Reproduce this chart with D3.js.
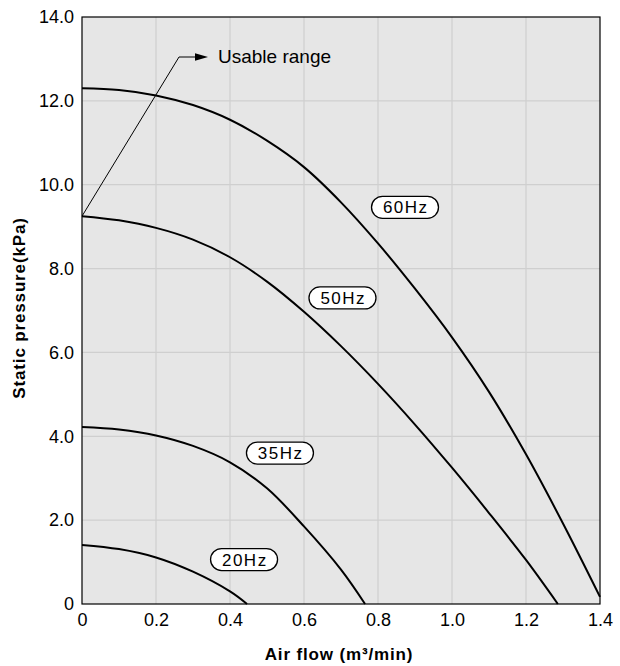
<!DOCTYPE html>
<html><head><meta charset="utf-8">
<script src="https://cdn.jsdelivr.net/npm/d3@7"></script>
<style>body{margin:0;background:#fff}svg{display:block}</style>
</head><body>
<svg id="c" width="620" height="666"></svg>
<script>
const xTicks = [0,0.2,0.4,0.6,0.8,1.0,1.2,1.4];
const xTickLabels = ["0","0.2","0.4","0.6","0.8","1.0","1.2","1.4"];
const yTicks = [0,2,4,6,8,10,12,14];
const yTickLabels = ["0","2.0","4.0","6.0","8.0","10.0","12.0","14.0"];
const seriesNames = ["60Hz","50Hz","35Hz","20Hz"];
const flow60 = [0,0.1,0.2,0.3,0.4,0.5,0.6,0.7,0.8,0.9,1.0,1.1,1.2,1.3,1.4];
const pres60 = [12.3,12.26,12.13,11.9,11.55,11.05,10.42,9.58,8.6,7.52,6.36,5.06,3.57,1.92,0.17];
const flow50 = [0,0.1,0.2,0.3,0.4,0.5,0.6,0.7,0.8,0.9,1.0,1.1,1.2,1.286];
const pres50 = [9.25,9.15,8.97,8.69,8.27,7.69,6.97,6.15,5.25,4.28,3.25,2.17,1.05,0];
const flow35 = [0,0.1,0.2,0.3,0.4,0.5,0.6,0.7,0.765];
const pres35 = [4.22,4.16,4.02,3.77,3.38,2.76,1.85,0.82,0];
const flow20 = [0,0.1,0.2,0.3,0.4,0.446];
const pres20 = [1.41,1.31,1.11,0.77,0.3,0];
const labelFlow = [0.873,0.704,0.535,0.438];
const labelPres = [9.46,7.30,3.60,1.06];

const svg = d3.select("#c");
const L=82,R=600,T=17,B=604;
const x = d3.scaleLinear().domain([0,1.4]).range([L,R]);
const y = d3.scaleLinear().domain([0,14]).range([B,T]);
const font = "'Liberation Sans',Arial,Helvetica,sans-serif";

svg.append("rect").attr("x",L).attr("y",T).attr("width",R-L).attr("height",B-T).attr("fill","#e6e6e6");
svg.append("g").selectAll("line").data(xTicks.slice(1,-1)).join("line")
  .attr("x1",d=>x(d)).attr("x2",d=>x(d)).attr("y1",T).attr("y2",B)
  .attr("stroke","#cfcfcf").attr("stroke-width",1.2);
svg.append("g").selectAll("line").data(yTicks.slice(1,-1)).join("line")
  .attr("y1",d=>y(d)).attr("y2",d=>y(d)).attr("x1",L).attr("x2",R)
  .attr("stroke","#cfcfcf").attr("stroke-width",1.2);
svg.append("rect").attr("x",L).attr("y",T).attr("width",R-L).attr("height",B-T)
  .attr("fill","none").attr("stroke","#000").attr("stroke-width",1.2);

const xa = svg.append("g").attr("transform",`translate(0,${B})`)
  .call(d3.axisBottom(x).tickValues(xTicks).tickFormat((d,i)=>xTickLabels[i]).tickSize(0).tickPadding(9));
xa.select(".domain").remove();
xa.selectAll("text").attr("font-family",font).attr("font-size",18).attr("fill","#000");
const ya = svg.append("g").attr("transform",`translate(${L},0)`)
  .call(d3.axisLeft(y).tickValues(yTicks).tickFormat((d,i)=>yTickLabels[i]).tickSize(0).tickPadding(8));
ya.select(".domain").remove();
ya.selectAll("text").attr("font-family",font).attr("font-size",18).attr("fill","#000");

const line = d3.line().x(d=>x(d[0])).y(d=>y(d[1])).curve(d3.curveCatmullRom.alpha(0.5));
const series = [[flow60,pres60],[flow50,pres50],[flow35,pres35],[flow20,pres20]];
series.forEach(([f,p])=>{
  svg.append("path").datum(f.map((v,i)=>[v,p[i]])).attr("d",line)
    .attr("fill","none").attr("stroke","#000").attr("stroke-width",2);
});

seriesNames.forEach((n,i)=>{
  const cx=x(labelFlow[i]), cy=y(labelPres[i]);
  svg.append("rect").attr("x",cx-33.5).attr("y",cy-11).attr("width",67).attr("height",22)
    .attr("rx",11).attr("fill","#fff").attr("stroke","#000").attr("stroke-width",1.3);
  svg.append("text").attr("x",cx+0.75).attr("y",cy+6).attr("text-anchor","middle")
    .attr("font-family",font).attr("font-size",17)
    .attr("letter-spacing",1.5).text(n);
});

const ax0=x(0), ay0=y(pres50[0]);
svg.append("polyline").attr("points",`${ax0},${ay0} 179,57 197,57`)
  .attr("fill","none").attr("stroke","#000").attr("stroke-width",1);
svg.append("path").attr("d","M195,53.3 L208,57 L195,60.7 Z").attr("fill","#000");
svg.append("text").attr("x",218).attr("y",63).attr("font-family",font)
  .attr("font-size",19).text("Usable range");

svg.append("text").attr("x",339).attr("y",660).attr("text-anchor","middle")
  .attr("font-family",font).attr("font-weight","bold").attr("font-size",17).attr("letter-spacing",0.85)
  .text("Air flow (m³/min)");
svg.append("text").attr("transform","translate(25,308) rotate(-90)").attr("text-anchor","middle")
  .attr("font-family",font).attr("font-weight","bold").attr("font-size",17).attr("letter-spacing",0.85)
  .text("Static pressure(kPa)");
</script>
</body></html>
